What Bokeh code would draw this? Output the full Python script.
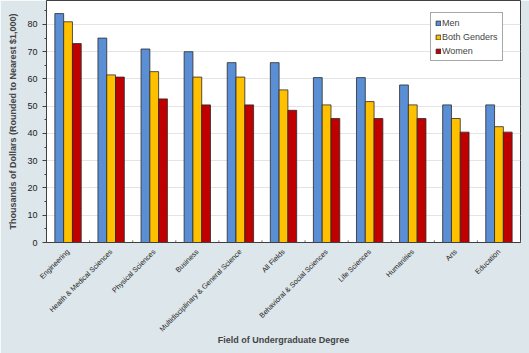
import math
from bokeh.plotting import figure
from bokeh.models import ColumnDataSource, FactorRange, Range1d, Legend, LegendItem, SingleIntervalTicker
from bokeh.transform import dodge
from bokeh.embed import file_html
from bokeh.resources import INLINE

categories = ["Engineering", "Health & Medical Sciences", "Physical Sciences", "Business",
              "Multidisciplinary & General Science", "All Fields", "Behavioral & Social Sciences",
              "Life Sciences", "Humanities", "Arts", "Education"]
men = [84, 75, 71, 70, 66, 66, 60.5, 60.5, 57.8, 50.5, 50.5]
both = [81, 61.5, 62.7, 60.7, 60.7, 56, 50.5, 51.7, 50.5, 45.5, 42.5]
women = [73, 60.7, 52.7, 50.5, 50.5, 48.5, 45.5, 45.5, 45.5, 40.5, 40.5]
series_names = ["Men", "Both Genders", "Women"]
colors = ["#5B8FD5", "#FFC000", "#C00000"]

src = ColumnDataSource(dict(cat=categories, men=men, both=both, women=women))

BG = "#DDE6EA"
p = figure(x_range=FactorRange(*categories), y_range=Range1d(0, 88.8),
           width=529, height=353, output_backend="svg", toolbar_location=None,
           min_border_left=46, min_border_right=9, min_border_top=0, min_border_bottom=111)
p.background_fill_color = "white"
p.border_fill_color = BG
p.outline_line_color = "#404040"
p.outline_line_width = 1

w = 0.204
renderers = []
for key, off, col in zip(["men", "both", "women"], [-w, 0, w], colors):
    r = p.vbar(x=dodge("cat", off, range=p.x_range), top=key, width=w, source=src,
               fill_color=col, line_color="#2a2a2a", line_width=0.8)
    renderers.append(r)

# category boundary ticks
bounds = list(range(len(categories) + 1))
p.segment(x0=bounds, x1=bounds, y0=[0] * len(bounds), y1=[0.8] * len(bounds),
          line_color="#707070", line_width=1)

p.xgrid.grid_line_color = None
p.ygrid.grid_line_color = "#E4E4E4"
p.ygrid.grid_line_width = 1
p.yaxis.ticker = SingleIntervalTicker(interval=10, num_minor_ticks=2)
p.yaxis.axis_label = "Thousands of Dollars (Rounded to Nearest $1,000)"
p.yaxis.axis_label_text_font = "Liberation Sans"
p.yaxis.axis_label_text_font_style = "bold"
p.yaxis.axis_label_text_font_size = "9px"
p.yaxis.axis_label_standoff = 6
p.yaxis.major_label_text_font = "Liberation Sans"
p.yaxis.major_label_text_font_size = "9px"
p.yaxis.major_label_text_color = "#222222"
p.yaxis.axis_line_color = "#404040"
p.yaxis.major_tick_line_color = "#404040"
p.yaxis.minor_tick_line_color = "#404040"
p.yaxis.major_tick_out = 4
p.yaxis.major_tick_in = 0
p.yaxis.minor_tick_out = 2
p.yaxis.minor_tick_in = 0

p.xaxis.axis_label = "Field of Undergraduate Degree"
p.xaxis.axis_label_text_font = "Liberation Sans"
p.xaxis.axis_label_text_font_style = "bold"
p.xaxis.axis_label_text_font_size = "9px"
p.xaxis.major_label_orientation = math.pi / 4
p.xaxis.major_label_text_font = "Liberation Sans"
p.xaxis.major_label_text_font_size = "7.2px"
p.xaxis.major_label_text_color = "#222222"
p.xaxis.major_tick_line_color = None
p.xaxis.axis_line_color = "#404040"
p.xaxis.major_label_standoff = 2
p.xaxis.axis_label_standoff = -5

legend = Legend(items=[LegendItem(label=n, renderers=[r]) for n, r in zip(series_names, renderers)],
                location=(384, 181))
p.add_layout(legend)
legend.border_line_color = "#505050"
legend.border_line_width = 1
legend.background_fill_color = "white"
legend.background_fill_alpha = 1
legend.label_text_font = "Liberation Sans"
legend.label_text_font_size = "9px"
legend.glyph_width = 6
legend.glyph_height = 6
legend.label_standoff = 1
legend.spacing = 3
legend.padding = 4
legend.label_height = 11
legend.margin = 0

open("out.html", "w").write(file_html(p, INLINE))
